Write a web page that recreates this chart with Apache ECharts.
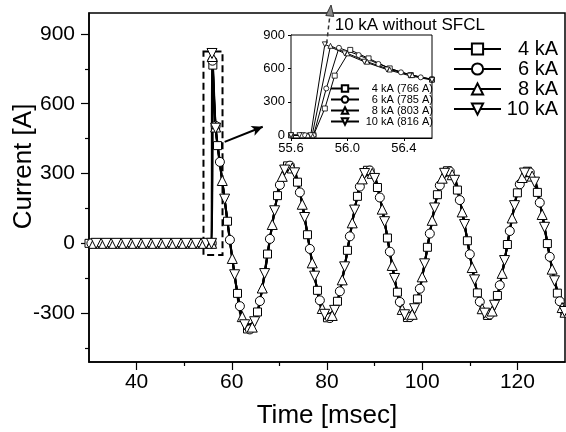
<!DOCTYPE html>
<html><head><meta charset="utf-8">
<script src="https://cdn.jsdelivr.net/npm/echarts@6/dist/echarts.min.js"></script>
<style>html,body{margin:0;padding:0;background:#fff}#c{width:566px;height:432px}</style>
</head><body><div id="c"></div>
<script>
// ---------- data ----------
const seriesNames = ['4 kA', '6 kA', '8 kA', '10 kA'];
const insetNames = ['4 kA (766 A)', '6 kA (785 A)', '8 kA (803 A)', '10 kA (816 A)'];
const xTickLabels = [40, 60, 80, 100, 120];
const xMinorTicks = [50, 70, 90, 110];
const yTickLabels = [-300, 0, 300, 600, 900];
const yMinorTicks = [-450, -150, 150, 450, 750];
const insetXTicks = [55.6, 56.0, 56.4];
const insetYTicks = [0, 300, 600, 900];

const time4 = [30.0, 32.1, 34.2, 36.3, 38.4, 40.5, 42.6, 44.7, 46.8, 48.9, 51.0, 53.1, 55.2,
  55.78, 56.02, 56.08, 56.6,
  57.0, 59.1, 61.2, 63.3, 65.4, 67.5, 69.6, 71.7, 73.8, 75.9, 78.0, 80.1, 82.2, 84.3, 86.4, 88.5, 90.6, 92.7, 94.8, 96.9,
  99.0, 101.1, 103.2, 105.3, 107.4, 109.5, 111.6, 113.7, 115.8, 117.9, 120.0, 122.1, 124.2, 126.3, 128.4, 130.0];
const current4 = [0, 0, 0, 0, 0, 0, 0, 0, 0, 0, 0, 0, 0,
  0, 766, 745, 500,
  420, 95, -215, -368, -295, -46, 205, 333, 263, 37, -202, -320, -249, -30, 202, 314, 240, 23, -210, -319,
  -239, -17, 209, 312, 229, 11, -213, -310, -224, -5, 217, 310, 219, -1, -214, -296];

const time6 = [30.5, 32.6, 34.7, 36.8, 38.9, 41.0, 43.1, 45.2, 47.3, 49.4, 51.5, 53.6,
  55.77, 55.94, 56.0, 56.6,
  57.5, 59.6, 61.7, 63.8, 65.9, 68.0, 70.1, 72.2, 74.3, 76.4, 78.5, 80.6, 82.7, 84.8, 86.9, 89.0, 91.1, 93.2, 95.3, 97.4,
  99.5, 101.6, 103.7, 105.8, 107.9, 110.0, 112.1, 114.2, 116.3, 118.4, 120.5, 122.6, 124.7, 126.8, 128.9, 130.0];
const current6 = [0, 0, 0, 0, 0, 0, 0, 0, 0, 0, 0, 0,
  0, 785, 765, 505,
  350, 15, -270, -370, -248, 19, 251, 334, 219, -24, -245, -321, -206, 30, 244, 313, 197, -36, -252, -317,
  -195, 42, 249, 309, 186, -47, -251, -306, -180, 53, 254, 305, 175, -58, -249, -296];

const time8 = [31.0, 33.1, 35.2, 37.3, 39.4, 41.5, 43.6, 45.7, 47.8, 49.9, 52.0, 54.1,
  55.76, 55.88, 55.94, 56.6,
  58.0, 60.1, 62.2, 64.3, 66.4, 68.5, 70.6, 72.7, 74.8, 76.9, 79.0, 81.1, 83.2, 85.3, 87.4, 89.5, 91.6, 93.7, 95.8, 97.9,
  100.0, 102.1, 104.2, 106.3, 108.4, 110.5, 112.6, 114.7, 116.8, 118.9, 121.0, 123.1, 125.2, 127.3, 129.4, 130.0];
const current8 = [0, 0, 0, 0, 0, 0, 0, 0, 0, 0, 0, 0,
  0, 803, 785, 500,
  270, -65, -315, -360, -192, 81, 288, 324, 168, -84, -280, -310, -157, 88, 277, 301, 147, -95, -284, -305,
  -144, 99, 280, 295, 135, -104, -281, -291, -129, 109, 283, 289, 124, -111, -276, -296];

const time10 = [31.5, 33.6, 35.7, 37.8, 39.9, 42.0, 44.1, 46.2, 48.3, 50.4, 52.5, 54.6,
  55.74, 55.84, 55.9, 56.6,
  58.5, 60.6, 62.7, 64.8, 66.9, 69.0, 71.1, 73.2, 75.3, 77.4, 79.5, 81.6, 83.7, 85.8, 87.9, 90.0, 92.1, 94.2, 96.3, 98.4,
  100.5, 102.6, 104.7, 106.8, 108.9, 111.0, 113.1, 115.2, 117.3, 119.4, 121.5, 123.6, 125.7, 127.8, 129.9];
const current10 = [0, 0, 0, 0, 0, 0, 0, 0, 0, 0, 0, 0,
  0, 816, 800, 495,
  190, -135, -350, -337, -130, 140, 315, 303, 111, -141, -305, -288, -101, 143, 300, 279, 93, -151, -307, -281,
  -88, 152, 301, 271, 81, -157, -300, -266, -74, 162, 302, 263, 69, -161, -293];

// inset (zoom of the fault instant)
const insetTime4 = [55.6, 55.68, 55.76, 55.84, 55.91, 56.02, 56.15, 56.3, 56.45, 56.6];
const insetCurrent4 = [0, 0, 0, 240, 535, 766, 690, 600, 540, 500];
const insetTime6 = [55.6, 55.7, 55.76, 55.85, 55.94, 56.08, 56.22, 56.38, 56.52, 56.6];
const insetCurrent6 = [0, 0, 0, 420, 785, 720, 640, 565, 520, 505];
const insetTime8 = [55.6, 55.72, 55.75, 55.88, 56.0, 56.14, 56.3, 56.46, 56.6];
const insetCurrent8 = [0, 0, 0, 803, 735, 660, 590, 540, 500];
const insetTime10 = [55.6, 55.66, 55.74, 55.84, 55.98, 56.12, 56.28, 56.44, 56.6];
const insetCurrent10 = [0, 0, 0, 816, 735, 660, 590, 535, 495];

// annotations (data coordinates)
const zoomBox = [[54.05, 825], [58.05, -50]];
const zoomArrow = [[58.5, 436], [66.5, 501]];
const noSfclArrow = [[55.853, 825], [55.884, 1169]];
const noSfclText = '10 kA without SFCL';

// ---------- chart ----------
const FONT = 'Liberation Sans';
const zip = (t, v) => t.map((x, i) => [x, v[i]]);
const downTri = 'path://M0,0L10,0L5,9Z';
const symbols = ['rect', 'circle', 'triangle', downTri];
const mainSizes = [8, 9, 10, 10];
const mainCurrents = [current4, current6, current8, current10];
const mainData = [zip(time4, current4), zip(time6, current6), zip(time8, current8), zip(time10, current10)];
const insetData = [zip(insetTime4, insetCurrent4), zip(insetTime6, insetCurrent6), zip(insetTime8, insetCurrent8), zip(insetTime10, insetCurrent10)];

const chart = echarts.init(document.getElementById('c'), null, {renderer: 'canvas'});

const series = [];
seriesNames.forEach((n, k) => {
  const vals = mainCurrents[k];
  const peakIdx = vals.indexOf(Math.max.apply(null, vals));
  const size = mainSizes[k];
  const s = {
    type: 'line', name: n, xAxisIndex: 0, yAxisIndex: 0,
    data: mainData[k], smooth: 0.3,
    symbol: symbols[k], showAllSymbol: true,
    symbolSize: (v, p) => (p && p.dataIndex === peakIdx + 1) ? 0 : size,
    lineStyle: {color: '#000', width: 2},
    itemStyle: {color: '#fff', borderColor: '#000', borderWidth: 1},
    emphasis: {disabled: true}, z: 3
  };
  if (k === 0) {
    s.markArea = {
      silent: true,
      itemStyle: {color: 'rgba(0,0,0,0)', borderColor: '#000', borderWidth: 2, borderType: [7, 4]},
      label: {show: false},
      data: [[{coord: zoomBox[0]}, {coord: zoomBox[1]}]]
    };
    s.markLine = {
      silent: true, symbol: ['none', 'arrow'], symbolSize: [8, 11],
      lineStyle: {color: '#000', width: 2, type: 'solid'},
      label: {show: false},
      data: [[{coord: zoomArrow[0]}, {coord: zoomArrow[1]}]]
    };
  }
  series.push(s);
});
insetNames.forEach((n, k) => {
  series.push({
    type: 'line', name: n, xAxisIndex: 2, yAxisIndex: 2,
    data: insetData[k], symbol: symbols[k], symbolSize: 5,
    lineStyle: {color: '#000', width: 1},
    itemStyle: {color: '#fff', borderColor: '#000', borderWidth: 0.8},
    emphasis: {disabled: true}, z: 3
  });
});

const tickLbl = {color: '#000', fontFamily: FONT, fontSize: 21};

const option = {
  animation: false,
  backgroundColor: '#fff',
  grid: [
    {left: 89, right: 1, top: 13, bottom: 70, show: true, borderColor: '#000', borderWidth: 1.5, outerBoundsMode: 'none', containLabel: false},
    {left: 291, right: 134, top: 35, bottom: 294, show: true, borderColor: '#000', borderWidth: 1, backgroundColor: '#fff', outerBoundsMode: 'none', containLabel: false, z: 2}
  ],
  xAxis: [
    {type: 'value', gridIndex: 0, position: 'bottom', min: 30, max: 130,
     name: 'Time [msec]', nameLocation: 'middle', nameGap: 41, nameMoveOverlap: false,
     nameTextStyle: {color: '#000', fontFamily: FONT, fontSize: 26},
     axisLine: {show: true, onZero: false, lineStyle: {color: '#000', width: 1.5}},
     axisTick: {show: true, length: 8, customValues: xTickLabels, lineStyle: {color: '#000', width: 1.2}},
     axisLabel: Object.assign({margin: 10, customValues: xTickLabels}, tickLbl),
     splitLine: {show: false}},
    {type: 'value', gridIndex: 0, position: 'bottom', min: 30, max: 130,
     axisLine: {show: false, onZero: false}, axisLabel: {show: false}, splitLine: {show: false},
     axisTick: {show: true, length: 4, customValues: xMinorTicks, lineStyle: {color: '#000', width: 1.2}}},
    {type: 'value', gridIndex: 1, position: 'bottom', min: 55.6, max: 56.6,
     axisLine: {show: true, onZero: false, lineStyle: {color: '#000', width: 1}},
     axisTick: {show: true, length: 3, customValues: insetXTicks, lineStyle: {color: '#000'}},
     axisLabel: {margin: 4, customValues: insetXTicks, color: '#000', fontFamily: FONT, fontSize: 13, formatter: v => v.toFixed(1)},
     splitLine: {show: false}}
  ],
  yAxis: [
    {type: 'value', gridIndex: 0, position: 'left', min: -510, max: 990,
     name: 'Current [A]', nameLocation: 'middle', nameGap: 52, nameRotate: 90, nameMoveOverlap: false,
     nameTextStyle: {color: '#000', fontFamily: FONT, fontSize: 26, padding: [0, 0, 0, 42]},
     axisLine: {show: true, onZero: false, lineStyle: {color: '#000', width: 1.5}},
     axisTick: {show: true, length: 8, customValues: yTickLabels, lineStyle: {color: '#000', width: 1.2}},
     axisLabel: Object.assign({margin: 14, customValues: yTickLabels}, tickLbl),
     splitLine: {show: false}},
    {type: 'value', gridIndex: 0, position: 'left', min: -510, max: 990,
     axisLine: {show: false, onZero: false}, axisLabel: {show: false}, splitLine: {show: false},
     axisTick: {show: true, length: 4, customValues: yMinorTicks, lineStyle: {color: '#000', width: 1.2}}},
    {type: 'value', gridIndex: 1, position: 'left', min: -25, max: 900,
     axisLine: {show: true, onZero: false, lineStyle: {color: '#000', width: 1}},
     axisTick: {show: true, length: 3, customValues: insetYTicks, lineStyle: {color: '#000'}},
     axisLabel: {margin: 6, customValues: insetYTicks, color: '#000', fontFamily: FONT, fontSize: 13},
     splitLine: {show: false}}
  ],
  legend: [
    {data: seriesNames, orient: 'vertical', left: 453, top: 39, itemWidth: 47, itemHeight: 14, itemGap: 0,
     selectedMode: false, padding: 0,
     formatter: n => '{a|' + n + '}',
     textStyle: {color: '#000', fontFamily: FONT, fontSize: 20,
       rich: {a: {width: 52, align: 'right', fontSize: 20, lineHeight: 25, fontFamily: FONT, color: '#000'}}}},
    {data: insetNames, orient: 'vertical', left: 330, top: 83, itemWidth: 28, itemHeight: 8, itemGap: 0,
     selectedMode: false, padding: 0,
     formatter: n => '{b|' + n + '}',
     textStyle: {color: '#000', fontFamily: FONT, fontSize: 11,
       rich: {b: {width: 69, align: 'right', fontSize: 11, lineHeight: 14, fontFamily: FONT, color: '#000'}}}}
  ],
  series: series
};
chart.setOption(option);

// annotation drawn through the inset's scales
const a0 = chart.convertToPixel({xAxisIndex: 2, yAxisIndex: 2}, noSfclArrow[0]);
const a1 = chart.convertToPixel({xAxisIndex: 2, yAxisIndex: 2}, noSfclArrow[1]);
const dx = a1[0] - a0[0], dy = a1[1] - a0[1], L = Math.hypot(dx, dy);
const ux = dx / L, uy = dy / L, hl = 11, hw = 4;
const bx = a1[0] - ux * hl, by = a1[1] - uy * hl;
chart.setOption({
  graphic: [
    {type: 'line', z: 10, shape: {x1: a0[0], y1: a0[1], x2: bx, y2: by},
     style: {stroke: '#333', lineWidth: 1.5, lineDash: [4, 3]}},
    {type: 'polygon', z: 10, shape: {points: [[a1[0], a1[1]], [bx - uy * hw, by + ux * hw], [bx + uy * hw, by - ux * hw]]},
     style: {fill: '#888', stroke: '#333', lineWidth: 1}},
    {type: 'text', z: 10, x: a0[0] + 8, y: 25,
     style: {text: noSfclText, fill: '#000', font: '17px "Liberation Sans"', verticalAlign: 'middle', align: 'left'}}
  ]
});
</script></body></html>
